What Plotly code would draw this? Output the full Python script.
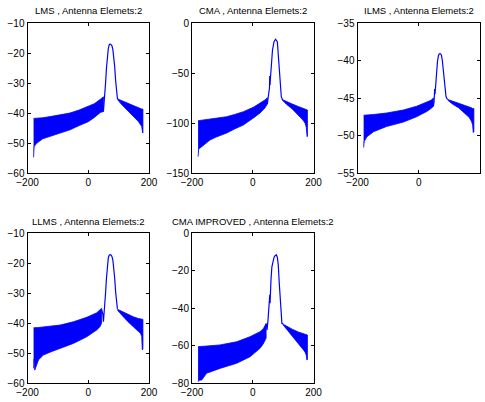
import plotly.graph_objects as go

titles = ["LMS , Antenna Elemets:2", "CMA , Antenna Elemets:2", "ILMS , Antenna Elemets:2",
          "LLMS , Antenna Elemets:2", "CMA IMPROVED , Antenna Elemets:2"]

# ---- LMS ----
lms_left_x = [-180, -178, -170, -150, -120, -90, -60, -30, 0, 20, 40, 50]
lms_left_up = [-41.8, -41.8, -41.7, -41.6, -41.1, -40.6, -40.0, -39.0, -37.9, -36.9, -35.4, -34.6]
lms_left_lo = [-54.8, -51.2, -50.1, -48.6, -47.5, -46.6, -45.6, -44.2, -42.9, -41.5, -39.8, -39.5]
lms_lobe_x = [50, 52, 54, 55, 57, 60, 63, 66, 69, 72, 75, 78, 81, 84, 87, 90, 93, 96, 98]
lms_lobe_y = [-39.5, -37.0, -36.0, -34.0, -30.0, -25.0, -21.0, -18.5, -17.3, -17.0, -17.2, -17.6, -18.8, -21.0, -24.5, -29.0, -33.0, -35.2, -35.5]
lms_right_x = [97, 110, 130, 150, 165, 172, 176, 179, 180]
lms_right_up = [-35.3, -35.9, -36.8, -37.7, -38.3, -38.6, -38.7, -38.7, -38.7]
lms_right_lo = [-35.6, -37.2, -39.3, -41.3, -42.8, -43.7, -44.5, -46.5, -46.7]

# ---- CMA ----
cma_left_x = [-180, -178, -168, -141, -120, -86, -60, -31, 2, 24, 40, 48]
cma_left_up = [-97.7, -97.6, -97.2, -96.0, -95.0, -93.7, -91.5, -88.7, -84.3, -80.3, -77.0, -74.7]
cma_left_lo = [-133.7, -126.0, -123.7, -117.0, -114.0, -110.0, -106.0, -102.0, -95.0, -90.0, -85.0, -81.0]
cma_lobe_x = [48, 52, 55, 56, 57, 58, 61, 65, 70, 75, 81, 85, 90, 94, 98]
cma_lobe_y = [-81.0, -73.7, -65.0, -53.0, -62.0, -56.0, -43.7, -27.0, -18.7, -16.3, -18.7, -33.7, -57.0, -73.7, -77.0]
cma_right_x = [97, 110, 130, 150, 165, 172, 176, 179, 180]
cma_right_up = [-76.5, -78.5, -81.0, -83.5, -85.5, -86.3, -86.8, -87.0, -87.0]
cma_right_lo = [-77.0, -81.0, -86.0, -92.0, -97.0, -100.0, -104.0, -113.7, -113.0]

# ---- ILMS ----
ilms_left_x = [-180, -178, -170, -148, -105, -50, -7, 26, 40, 48]
ilms_left_up = [-47.3, -47.3, -47.3, -47.2, -47.0, -46.6, -46.1, -45.6, -45.3, -45.0]
ilms_left_lo = [-51.6, -50.8, -50.2, -49.5, -48.8, -48.2, -47.5, -46.8, -46.4, -46.1]
ilms_lobe_x = [48, 50, 52, 53, 55, 58, 61, 64, 67, 71, 74, 77, 80, 83, 86, 89, 92, 95]
ilms_lobe_y = [-46.1, -45.5, -43.8, -44.5, -43.5, -41.5, -40.2, -39.4, -39.1, -39.1, -39.3, -40.0, -41.3, -42.8, -44.0, -44.8, -45.1, -45.2]
ilms_right_x = [95, 110, 130, 150, 165, 172, 176, 178, 180]
ilms_right_up = [-45.2, -45.4, -45.7, -46.0, -46.2, -46.3, -46.4, -46.4, -46.4]
ilms_right_lo = [-45.3, -45.8, -46.3, -47.0, -47.6, -48.1, -48.6, -49.6, -49.5]

# ---- LLMS ----
llms_left_x = [-180, -178, -176, -164, -148, -120, -93, -49, -5, 28, 39, 44]
llms_left_up = [-41.6, -41.6, -41.6, -41.5, -41.3, -41.0, -40.7, -39.6, -38.1, -36.6, -35.7, -35.1]
llms_left_lo = [-55.1, -52.0, -55.7, -52.3, -50.7, -49.5, -48.4, -46.8, -44.6, -42.3, -41.2, -40.0]
llms_lobe_x = [44, 48, 50, 52, 54, 55, 57, 60, 63, 66, 69, 72, 75, 78, 81, 84, 87, 90, 93, 96]
llms_lobe_y = [-35.5, -37.0, -39.6, -36.0, -31.0, -33.0, -30.0, -25.0, -21.0, -18.3, -17.4, -17.2, -17.3, -17.8, -19.0, -21.5, -25.0, -29.5, -33.5, -35.3]
llms_right_x = [96, 110, 130, 150, 165, 172, 176, 178, 180]
llms_right_up = [-35.4, -36.1, -37.1, -38.0, -38.5, -38.7, -38.8, -38.8, -38.8]
llms_right_lo = [-35.7, -37.3, -39.5, -41.5, -42.8, -43.4, -44.5, -49.0, -48.5]

# ---- CMA IMPROVED ----
cmai_left_x = [-180, -177, -168, -152, -108, -53, -9, 24, 35, 44]
cmai_left_up = [-60.6, -60.6, -60.5, -60.3, -59.7, -58.0, -55.3, -52.6, -51.0, -48.2]
cmai_left_lo = [-79.3, -78.5, -78.4, -74.8, -72.2, -69.5, -66.0, -61.5, -59.0, -56.0]
cmai_lobe_x = [44, 47, 50, 53, 56, 57, 58, 60, 63, 66, 70, 74, 78, 81, 84, 87, 90, 93, 96, 100]
cmai_lobe_y = [-48.5, -51.7, -47.0, -40.0, -33.0, -37.5, -31.0, -25.0, -18.0, -14.8, -13.0, -12.0, -11.7, -13.0, -17.0, -26.0, -36.0, -44.0, -48.2, -48.6]
cmai_right_x = [100, 115, 130, 150, 165, 172, 176, 178, 180]
cmai_right_up = [-48.6, -50.0, -51.3, -52.8, -53.8, -54.2, -54.4, -54.4, -54.4]
cmai_right_lo = [-49.0, -52.0, -55.0, -59.0, -62.0, -63.5, -65.0, -67.7, -67.5]

y_ranges = [[-60, -10], [-150, 0], [-55, -35], [-60, -10], [-80, 0]]
y_dticks = [10, 50, 5, 10, 20]

panels = [
    (lms_left_x, lms_left_up, lms_left_lo, lms_lobe_x, lms_lobe_y, lms_right_x, lms_right_up, lms_right_lo),
    (cma_left_x, cma_left_up, cma_left_lo, cma_lobe_x, cma_lobe_y, cma_right_x, cma_right_up, cma_right_lo),
    (ilms_left_x, ilms_left_up, ilms_left_lo, ilms_lobe_x, ilms_lobe_y, ilms_right_x, ilms_right_up, ilms_right_lo),
    (llms_left_x, llms_left_up, llms_left_lo, llms_lobe_x, llms_lobe_y, llms_right_x, llms_right_up, llms_right_lo),
    (cmai_left_x, cmai_left_up, cmai_left_lo, cmai_lobe_x, cmai_lobe_y, cmai_right_x, cmai_right_up, cmai_right_lo),
]

W, H = 485, 402
col_px = [(27.5, 149), (192, 313.5), (357.5, 480)]
row_px = [(23, 173), (233, 383)]
title_py = [10.5, 221]

BLUE = "#0000ff"
FONT = dict(family="Liberation Sans, Arial, sans-serif", size=10, color="black")

fig = go.Figure()
layout = {}
annotations = []
for i, p in enumerate(panels):
    r, c = divmod(i, 3)
    xa = "x" if i == 0 else f"x{i+1}"
    ya = "y" if i == 0 else f"y{i+1}"
    lx, lu, ll, bx, by, rx, ru, rl = p
    for bxs, bu, bl in [(lx, lu, ll), (rx, ru, rl)]:
        fig.add_trace(go.Scatter(x=list(bxs) + list(bxs)[::-1], y=list(bu) + list(bl)[::-1],
                                 mode="lines", fill="toself", fillcolor=BLUE,
                                 line=dict(color=BLUE, width=0.8), xaxis=xa, yaxis=ya,
                                 showlegend=False, hoverinfo="skip"))
    fig.add_trace(go.Scatter(x=bx, y=by, mode="lines", line=dict(color=BLUE, width=1.2),
                             xaxis=xa, yaxis=ya, showlegend=False))
    x0, x1 = col_px[c]
    y0, y1 = row_px[r]
    axcommon = dict(showline=True, linecolor="black", linewidth=1, mirror="ticks",
                    ticks="inside", ticklen=3, tickcolor="black", showgrid=False,
                    zeroline=False, tickfont=FONT, automargin=False)
    layout["xaxis" if i == 0 else f"xaxis{i+1}"] = dict(
        domain=[x0 / W, x1 / W], range=[-200, 200], tickvals=[-200, 0, 200],
        anchor=ya, **axcommon)
    layout["yaxis" if i == 0 else f"yaxis{i+1}"] = dict(
        domain=[1 - y1 / H, 1 - y0 / H], range=y_ranges[i], dtick=y_dticks[i],
        anchor=xa, **axcommon)
    annotations.append(dict(text=titles[i], xref="paper", yref="paper",
                            x=(x0 + x1) / 2 / W, y=1 - title_py[r] / H,
                            xanchor="center", yanchor="middle", showarrow=False,
                            font=dict(family="Liberation Sans, Arial, sans-serif", size=9.5, color="black")))

fig.update_layout(width=W, height=H, margin=dict(l=0, r=0, t=0, b=0),
                  paper_bgcolor="white", plot_bgcolor="white",
                  annotations=annotations, **layout)
fig.write_html("out.html")
